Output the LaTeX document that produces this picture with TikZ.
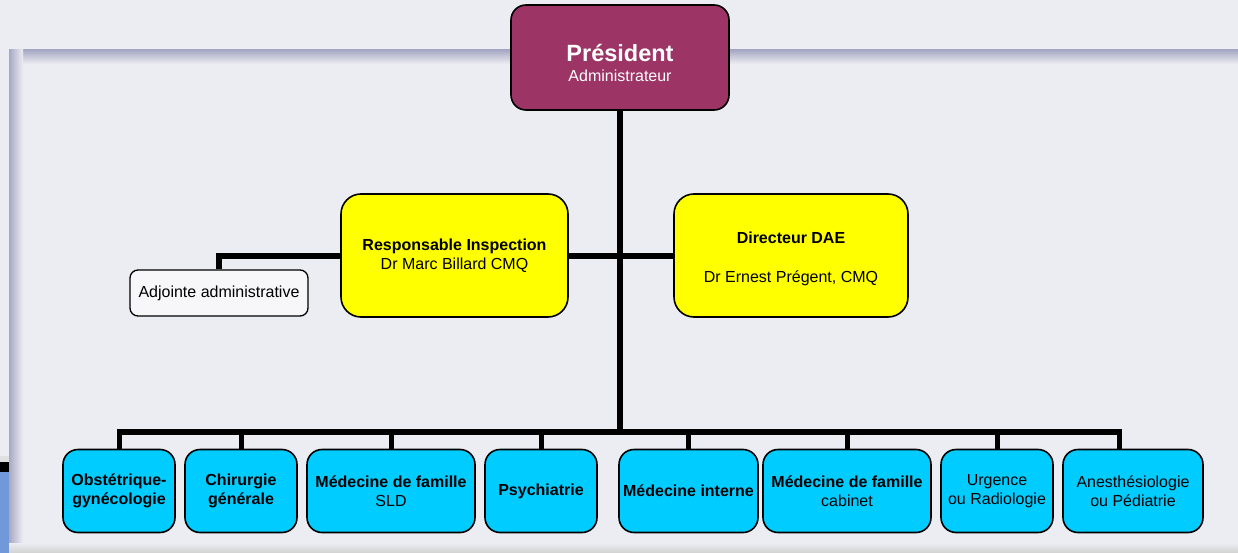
\documentclass[tikz,border=0pt]{standalone}
\usepackage{fontspec}
\setmainfont{Liberation Sans}
\usetikzlibrary{positioning}
\definecolor{pagebg}{HTML}{ECEDF2}
\definecolor{edgeshade}{HTML}{A7A9C4}
\definecolor{presfill}{HTML}{9C3465}
\definecolor{headfill}{HTML}{FFFF00}
\definecolor{unitfill}{HTML}{00CCFF}
\definecolor{aidefill}{HTML}{F7F7FA}
\definecolor{swoosh}{HTML}{7199DA}
\pgfdeclarelayer{bg}
\pgfdeclarelayer{wires}
\pgfsetlayers{bg,wires,main}
\tikzset{
  box/.style={draw=black, line width=1.6pt, align=center, inner sep=2pt,
    font=\fontsize{16}{18.5}\selectfont},
  presbox/.style={box, fill=presfill, text=white, rounded corners=15pt,
    minimum width=218pt, minimum height=105pt},
  headbox/.style={box, fill=headfill, rounded corners=20pt,
    minimum width=230pt, minimum height=123pt},
  unitbox/.style={box, fill=unitfill, rounded corners=15pt, minimum height=83pt},
  aidebox/.style={box, fill=aidefill, rounded corners=8pt, line width=1.3pt,
    minimum width=178pt, minimum height=46pt},
  trunk/.style={line width=6pt, black},
  drop/.style={line width=5pt, black},
}
\begin{document}
\begin{tikzpicture}[x=1pt,y=-1pt]
% page and framed panel
\begin{pgfonlayer}{bg}
  \fill[pagebg] (0,0) rectangle (1238,553);
  \shade[top color=edgeshade, bottom color=pagebg] (9,50) rectangle (1238,64);
  \shade[left color=edgeshade, right color=pagebg] (9,50) rectangle (23,553);
  \shade[top color=pagebg, bottom color=black!18] (9,543) rectangle (1238,553);
  \fill[black!12] (0,456) rectangle (9,462);
  \fill[black] (0,462) rectangle (9,472);
  \fill[swoosh] (0,472) rectangle (9,553);
\end{pgfonlayer}

% top of the chart
\node[presbox] (pres) at (620,57.5)
  {\rule{0pt}{28pt}{\fontsize{23.5}{26}\selectfont\bfseries Président}\\[2pt] Administrateur};
\node[headbox, minimum width=227pt] (insp) at (454.5,255.5)
  {\textbf{Responsable Inspection}\\ Dr Marc Billard CMQ};
\node[headbox, minimum width=234pt] (dae) at (791,255.5)
  {\rule{0pt}{18pt}\textbf{Directeur DAE}\\[20.5pt] Dr Ernest Prégent, CMQ};
\node[aidebox] (aide) at (219,293) {Adjointe administrative};

% medical specialties
\node[unitbox, minimum width=112pt] (u1) at (119,491) {\textbf{Obstétrique-}\\ \textbf{gynécologie}};
\node[unitbox, minimum width=112pt] (u2) at (241,491) {\textbf{Chirurgie}\\ \textbf{générale}};
\node[unitbox, minimum width=168pt] (u3) at (391,491) {\textbf{Médecine de famille}\\ SLD};
\node[unitbox, minimum width=112pt] (u4) at (541,491) {\textbf{Psychiatrie}};
\node[unitbox, minimum width=139pt] (u5) at (688.5,491) {\textbf{Médecine interne}};
\node[unitbox, minimum width=168pt] (u6) at (847,491) {\textbf{Médecine de famille}\\ cabinet};
\node[unitbox, minimum width=112pt] (u7) at (997,491) {Urgence\\ ou Radiologie};
\node[unitbox, minimum width=140pt] (u8) at (1133,491) {Anesthésiologie\\ ou Pédiatrie};

\coordinate (bus) at (620,431.5);
\coordinate (u8top) at (1119,449.5);

% connectors
\begin{pgfonlayer}{wires}
  \draw[trunk] (pres.south) -- (bus);
  \draw[trunk] (insp.east) -- (dae.west);
  \draw[trunk] (insp.west) -| (aide.north);
  \foreach \u in {u1,u2,u3,u4,u5,u6}
    \draw[drop] (\u.north) |- (bus);
  \draw[drop] (u7.north) |- (bus);
  \draw[drop] (u8top) |- (bus);
  \draw[trunk] (u1.north |- bus) -- (u8top |- bus);
\end{pgfonlayer}
\end{tikzpicture}
\end{document}
